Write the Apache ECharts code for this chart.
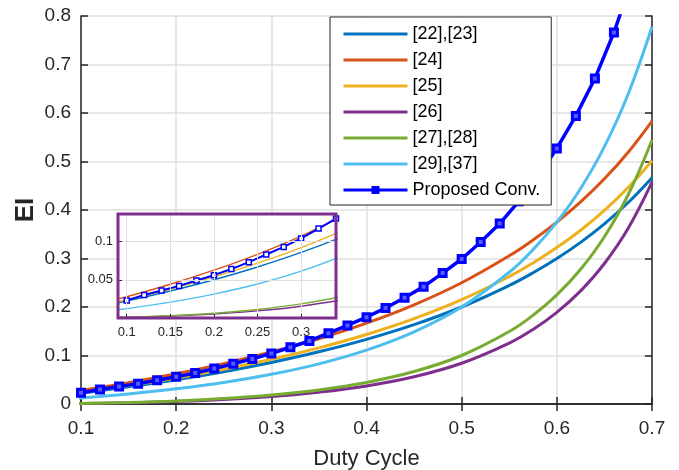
<!DOCTYPE html>
<html>
<head>
<meta charset="utf-8">
<title>EI vs Duty Cycle</title>
<script src="https://cdn.jsdelivr.net/npm/echarts@6/dist/echarts.min.js"></script>
<style>
  html, body { margin: 0; padding: 0; background: #fff; }
  #myECharts { width: 679px; height: 470px; }
</style>
</head>
<body>
<div id="myECharts"></div>
<script>
// duty cycle points used for the reference converters
var dutyRef = [0.05, 0.1, 0.15, 0.2, 0.25, 0.3, 0.35, 0.4, 0.45, 0.5, 0.55, 0.575, 0.6, 0.625, 0.65, 0.675, 0.7]
var ei2223 = [0.0105, 0.0222, 0.0353, 0.05, 0.0667, 0.0857, 0.1077, 0.1333, 0.1636, 0.2, 0.2444, 0.2706, 0.3, 0.3333, 0.3714, 0.4154, 0.4667]
var ei24 = [0.0132, 0.0278, 0.0441, 0.0625, 0.0833, 0.1071, 0.1346, 0.1667, 0.2045, 0.25, 0.3056, 0.3382, 0.375, 0.4167, 0.4643, 0.5192, 0.5833]
var ei25 = [0.0113, 0.0239, 0.0379, 0.0538, 0.0717, 0.0921, 0.1158, 0.1433, 0.1759, 0.215, 0.2628, 0.2909, 0.3225, 0.3583, 0.3993, 0.4465, 0.5017]
var ei26 = [0.0002, 0.001, 0.0026, 0.0053, 0.0093, 0.0154, 0.0244, 0.0373, 0.0562, 0.084, 0.1255, 0.1538, 0.189, 0.2333, 0.2897, 0.3623, 0.4573]
var ei2728 = [0.0003, 0.0012, 0.0031, 0.0063, 0.0111, 0.0184, 0.029, 0.0444, 0.0669, 0.1, 0.1494, 0.183, 0.225, 0.2778, 0.3449, 0.4314, 0.5444]
var ei2937 = [0.0055, 0.0123, 0.0208, 0.0313, 0.0444, 0.0612, 0.0828, 0.1111, 0.1488, 0.2, 0.2716, 0.3183, 0.375, 0.4444, 0.5306, 0.6391, 0.7778]

// proposed converter, one marker every 0.02
var dutyProp = [0.1, 0.12, 0.14, 0.16, 0.18, 0.2, 0.22, 0.24, 0.26, 0.28, 0.3, 0.32, 0.34, 0.36, 0.38, 0.4,
  0.42, 0.44, 0.46, 0.48, 0.5, 0.52, 0.54, 0.56, 0.58, 0.6, 0.62, 0.64, 0.66, 0.68]
var eiProp = [0.023, 0.030, 0.036, 0.042, 0.049, 0.056, 0.064, 0.073, 0.083, 0.093, 0.104, 0.117, 0.130, 0.146, 0.162, 0.179,
  0.198, 0.219, 0.242, 0.270, 0.299, 0.334, 0.372, 0.418, 0.468, 0.527, 0.594, 0.671, 0.766, 0.88]

var names = ['[22],[23]', '[24]', '[25]', '[26]', '[27],[28]', '[29],[37]', 'Proposed Conv.']
var colors = ['#0072BD', '#D95319', '#EDB120', '#7E2F8E', '#77AC30', '#4DBEEE', '#0000FF']
var refData = [ei2223, ei24, ei25, ei26, ei2728, ei2937]
var insetTicks = [0.1, 0.15, 0.2, 0.25, 0.3]

var font = 'Liberation Sans, Arial, sans-serif'
var ink = '#262626'

function pairs(xs, ys) {
  return xs.map(function (x, i) { return [x, ys[i]] })
}

var series = []
// main plot
refData.forEach(function (ys, i) {
  series.push({
    name: names[i], type: 'line', xAxisIndex: 0, yAxisIndex: 0,
    data: pairs(dutyRef, ys), smooth: 0.4, symbol: 'none',
    lineStyle: { color: colors[i], width: 3 }, itemStyle: { color: colors[i] },
    z: 2
  })
})
series.push({
  name: names[6], type: 'line', xAxisIndex: 0, yAxisIndex: 0,
  data: pairs(dutyProp, eiProp), symbol: 'rect', symbolSize: 7, showAllSymbol: true,
  lineStyle: { color: '#0000FF', width: 3.5 },
  itemStyle: { color: '#5a5aff', borderColor: '#0000FF', borderWidth: 3 },
  z: 2
})
// inset (zoomed view)
refData.forEach(function (ys, i) {
  series.push({
    name: names[i], type: 'line', xAxisIndex: 2, yAxisIndex: 2,
    data: pairs(dutyRef, ys), smooth: 0.4, symbol: 'none',
    lineStyle: { color: colors[i], width: 1.4 },
    z: 5
  })
})
series.push({
  name: names[6], type: 'line', xAxisIndex: 2, yAxisIndex: 2,
  data: pairs(dutyProp, eiProp), symbol: 'rect', symbolSize: 5, showAllSymbol: true,
  lineStyle: { color: '#0000FF', width: 2 },
  itemStyle: { color: '#fff', borderColor: '#0000FF', borderWidth: 1.5 },
  z: 5
})

// legend entries: plain lines, a filled square only for the proposed one
var legendData = names.map(function (n, i) {
  if (i === 6) {
    return { name: n, lineStyle: { width: 3 }, itemStyle: { color: '#0000FF', borderWidth: 0 } }
  }
  return { name: n, lineStyle: { width: 3 }, itemStyle: { opacity: 0 } }
})

var option = {
  animation: false,
  backgroundColor: '#fff',
  textStyle: { fontFamily: font, color: ink },
  grid: [
    { left: 81, top: 16, right: 27, bottom: 66, outerBoundsMode: 'none', containLabel: false },
    { left: 118, top: 214, width: 218, height: 104, outerBoundsMode: 'none', containLabel: false }
  ],
  legend: {
    data: legendData,
    orient: 'vertical',
    left: 330, top: 17,
    padding: [8, 11, 6, 12],
    itemWidth: 64, itemHeight: 10, itemGap: 8,
    backgroundColor: '#fff', borderColor: ink, borderWidth: 1,
    selectedMode: false,
    textStyle: { fontFamily: font, fontSize: 18, color: '#000', lineHeight: 18 }
  },
  xAxis: [
    {
      type: 'value', gridIndex: 0, min: 0.1, max: 0.7, interval: 0.1,
      name: 'Duty Cycle', nameLocation: 'middle', nameGap: 44, nameMoveOverlap: false,
      nameTextStyle: { fontSize: 22, color: ink, fontFamily: font },
      axisLine: { show: true, lineStyle: { color: ink, width: 1.5 } },
      axisTick: { show: true, inside: true, length: 7, lineStyle: { color: ink, width: 1.5 } },
      axisLabel: { fontSize: 19, color: ink, margin: 15, fontFamily: font },
      splitLine: { show: true, lineStyle: { color: '#dfdfdf', width: 1.5 } }
    },
    {
      type: 'value', gridIndex: 0, position: 'top', min: 0.1, max: 0.7, interval: 0.1,
      axisLine: { show: true, lineStyle: { color: ink, width: 1.5 } },
      axisTick: { show: true, inside: true, length: 7, lineStyle: { color: ink, width: 1.5 } },
      axisLabel: { show: false }, splitLine: { show: false }
    },
    {
      type: 'value', gridIndex: 1, min: 0.09, max: 0.34, z: 6,
      axisLine: { show: false },
      axisTick: { show: true, inside: true, length: 4, customValues: insetTicks, lineStyle: { color: ink } },
      axisLabel: { fontSize: 13, color: ink, margin: 8, customValues: insetTicks, fontFamily: font },
      splitLine: { show: true, lineStyle: { color: '#dfdfdf', width: 1 } }
    }
  ],
  yAxis: [
    {
      type: 'value', gridIndex: 0, min: 0, max: 0.8, interval: 0.1,
      name: 'EI', nameLocation: 'middle', nameGap: 42, nameMoveOverlap: false,
      nameTextStyle: { fontSize: 26, fontWeight: 'bold', color: ink, fontFamily: font },
      axisLine: { show: true, lineStyle: { color: ink, width: 1.5 } },
      axisTick: { show: true, inside: true, length: 7, lineStyle: { color: ink, width: 1.5 } },
      axisLabel: { fontSize: 19, color: ink, margin: 10, fontFamily: font },
      splitLine: { show: true, lineStyle: { color: '#dfdfdf', width: 1.5 } }
    },
    {
      type: 'value', gridIndex: 0, position: 'right', min: 0, max: 0.8, interval: 0.1,
      axisLine: { show: true, lineStyle: { color: ink, width: 1.5 } },
      axisTick: { show: true, inside: true, length: 7, lineStyle: { color: ink, width: 1.5 } },
      axisLabel: { show: false }, splitLine: { show: false }
    },
    {
      type: 'value', gridIndex: 1, min: 0, max: 0.136, interval: 0.05, z: 6,
      axisLine: { show: false },
      axisTick: { show: true, inside: true, length: 4, lineStyle: { color: ink } },
      axisLabel: {
        fontSize: 13, color: ink, margin: 5, showMaxLabel: false, fontFamily: font,
        formatter: function (v) { return v === 0 ? '' : v }
      },
      splitLine: { show: true, lineStyle: { color: '#dfdfdf', width: 1 } }
    }
  ],
  graphic: [
    // white card behind the inset, then its purple frame on top
    { type: 'rect', z: 3, shape: { x: 118, y: 214, width: 218, height: 104 }, style: { fill: '#fff' } },
    { type: 'rect', z: 7, shape: { x: 118, y: 214, width: 218, height: 104 },
      style: { fill: 'none', stroke: '#7E2F8E', lineWidth: 3 } }
  ],
  series: series
}

var myChart = echarts.init(document.getElementById('myECharts'))
myChart.setOption(option, true)
</script>
</body>
</html>
